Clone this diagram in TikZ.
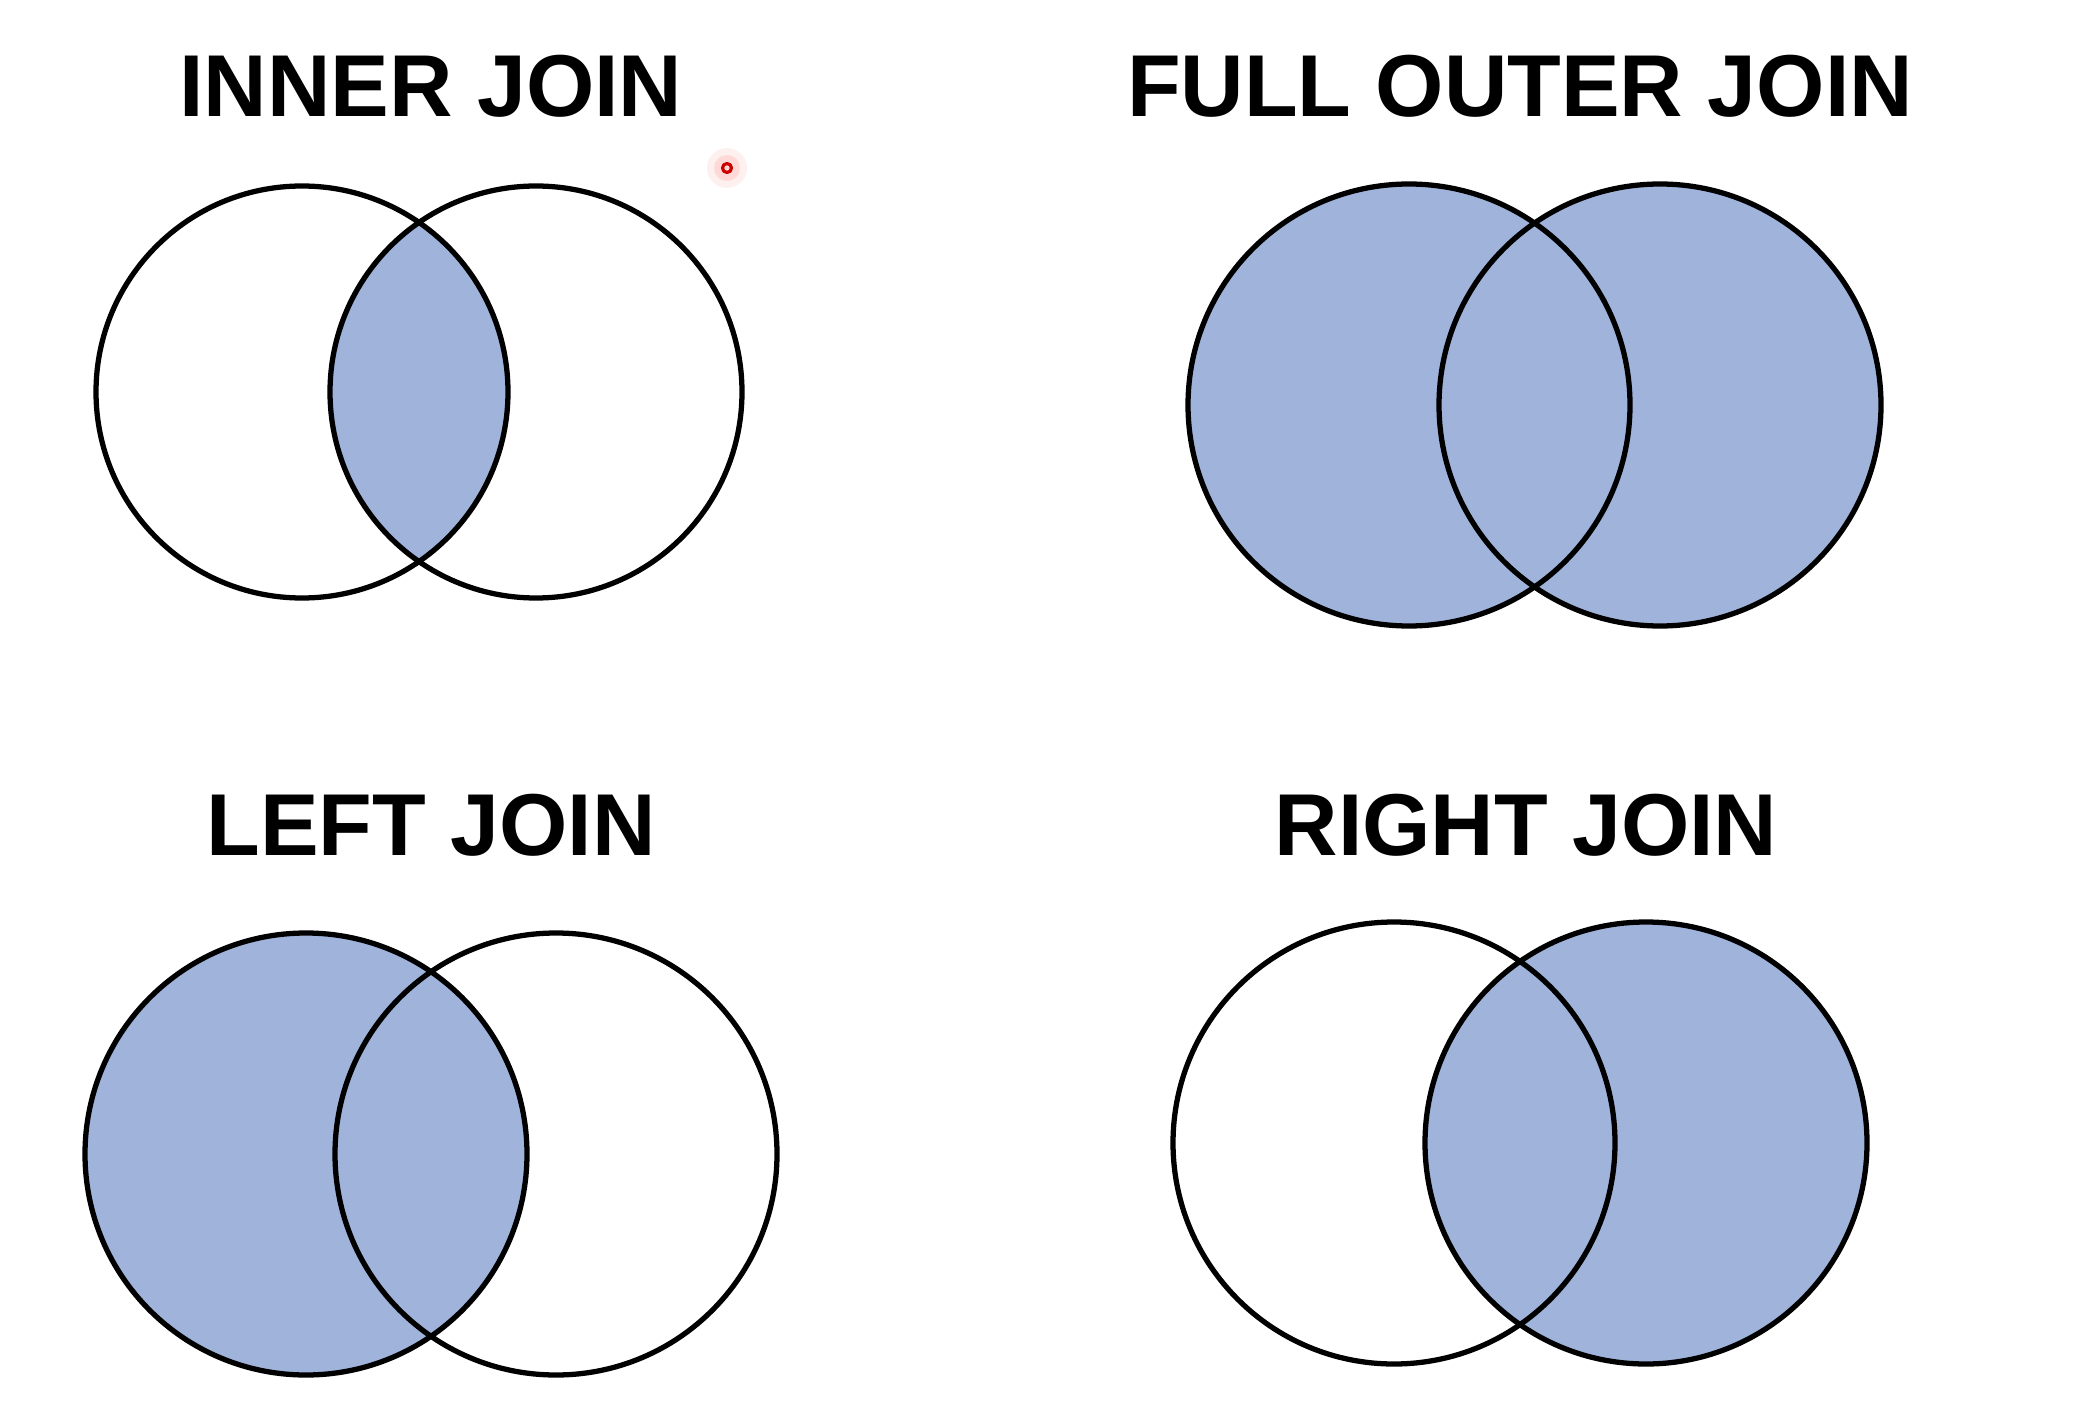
\documentclass[tikz,border=0pt]{standalone}
\usepackage{fontspec}
\setmainfont{Liberation Sans}
\usepackage{tikz}

\definecolor{vennblue}{RGB}{160,179,219}

\tikzset{
  venn/.style={draw=black,line width=1.5pt},
  vennfill/.style={fill=vennblue},
  jointitle/.style={inner sep=0pt,anchor=base,font=\fontsize{25}{30}\selectfont\bfseries}
}

\begin{document}
\begin{tikzpicture}[join=round] % four join diagrams
        \useasboundingbox (0,0) rectangle (20.76,-14.18);
        % titles
        \node[jointitle] (tinner) at (4.31,-1.17) {INNER JOIN};
        \node[jointitle] (tfull) at (15.20,-1.17) {FULL OUTER JOIN};
        \node[jointitle] (tleft) at (4.31,-8.55) {LEFT JOIN};
        \node[jointitle] (tright) at (15.26,-8.55) {RIGHT JOIN};
        % inner join
        \begin{scope}
                \clip (3.02,-3.92) circle (2.06);
                \fill[vennfill] (5.36,-3.92) circle (2.06);
        \end{scope}
        \draw[venn] (3.02,-3.92) circle (2.06);
        \draw[venn] (5.36,-3.92) circle (2.06);
        % full outer join
        \fill[vennfill] (14.09,-4.05) circle (2.21) (16.60,-4.05) circle (2.21);
        \draw[venn] (14.09,-4.05) circle (2.21);
        \draw[venn] (16.60,-4.05) circle (2.21);
        % left join
        \fill[vennfill] (3.06,-11.54) circle (2.21);
        \draw[venn] (3.06,-11.54) circle (2.21);
        \draw[venn] (5.56,-11.54) circle (2.21);
        % right join
        \fill[vennfill] (16.46,-11.43) circle (2.21);
        \draw[venn] (13.94,-11.43) circle (2.21);
        \draw[venn] (16.46,-11.43) circle (2.21);
        % pointer mark
        \fill[red,opacity=.06] (7.27,-1.68) circle (0.2);
        \fill[red,opacity=.1] (7.27,-1.68) circle (0.13);
        \draw[red!80!black,line width=0.9pt] (7.27,-1.68) circle (0.045);
\end{tikzpicture}
\end{document}
